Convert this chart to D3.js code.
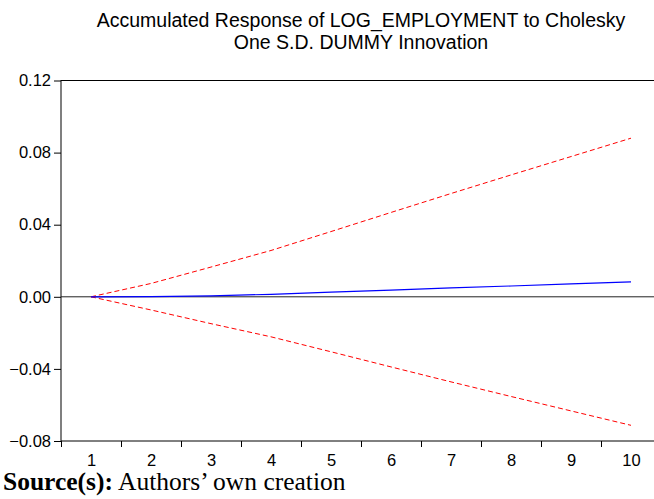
<!DOCTYPE html>
<html>
<head>
<meta charset="utf-8">
<script src="https://cdn.jsdelivr.net/npm/d3@7"></script>
<style>
  body { margin:0; background:#fff; }
  svg text { font-family: "Liberation Sans", Arial, sans-serif; }
</style>
</head>
<body>
<div id="chart"></div>
<script>
const periods = [1,2,3,4,5,6,7,8,9,10]
const response = [0, 0.0001, 0.0005, 0.0014, 0.0026, 0.0037, 0.0049, 0.0060, 0.0072, 0.0083]
const upperBand = [0, 0.0074, 0.0165, 0.0257, 0.0362, 0.0468, 0.0573, 0.0676, 0.0778, 0.0880]
const lowerBand = [0, -0.0073, -0.0149, -0.0222, -0.0305, -0.0389, -0.0472, -0.0553, -0.0633, -0.0713]
const yTicks = [-0.08, -0.04, 0.00, 0.04, 0.08, 0.12]
const titleLines = ["Accumulated Response of LOG_EMPLOYMENT to Cholesky", "One S.D. DUMMY Innovation"]

const W = 654, H = 499
const margin = {top:80.5, left:61, right:-7, bottom:58}
const width = W - margin.left - margin.right,
      height = H - margin.top - margin.bottom

const svg = d3.select("#chart")
  .append("svg")
    .attr("width", W)
    .attr("height", H)

// title
svg.append("g").selectAll("text")
  .data(titleLines)
  .join("text")
    .attr("x", margin.left + width / 2)
    .attr("y", (d,i) => 27 + i * 21.5)
    .attr("text-anchor", "middle")
    .style("font-size", "19.5px")
    .text(d => d)

const g = svg.append("g")
  .attr("transform", "translate(" + margin.left + "," + margin.top + ")")

const x = d3.scaleLinear().domain([0.5, periods.length + 0.5]).range([0, width])
const y = d3.scaleLinear().domain([-0.08, 0.12]).range([height, 0])

// frame
g.append("rect")
  .attr("width", width).attr("height", height)
  .attr("fill", "none").attr("stroke", "#000").attr("stroke-width", 1)

// zero line
g.append("line")
  .attr("x1", 0).attr("x2", width)
  .attr("y1", y(0)).attr("y2", y(0))
  .attr("stroke", "#222").attr("stroke-width", 1)

// y axis
g.append("g")
  .call(d3.axisLeft(y).tickValues(yTicks).tickSize(7).tickSizeOuter(0).tickPadding(3)
    .tickFormat(d3.format(".2f")))
  .call(a => a.select(".domain").remove())
  .selectAll("text").style("font-size", "16.5px").attr("fill", "#000")

// x axis: boundary ticks, labels at centers
g.append("g")
  .attr("transform", "translate(0," + height + ")")
  .call(d3.axisBottom(x).tickValues(d3.range(0.5, periods.length + 1, 1)).tickSize(6).tickSizeOuter(0).tickFormat(""))
  .call(a => a.select(".domain").remove())
g.append("g")
  .attr("transform", "translate(0," + height + ")")
  .call(d3.axisBottom(x).tickValues(periods).tickSize(0).tickPadding(13).tickFormat(d3.format("d")))
  .call(a => a.select(".domain").remove())
  .selectAll("text").style("font-size", "16.5px").attr("fill", "#000")

const line = d3.line().x((d,i) => x(periods[i])).y(d => y(d))

g.append("path").datum(upperBand)
  .attr("d", line).attr("fill", "none")
  .attr("stroke", "#ff0000").attr("stroke-width", 1).attr("stroke-dasharray", "5,3")
g.append("path").datum(lowerBand)
  .attr("d", line).attr("fill", "none")
  .attr("stroke", "#ff0000").attr("stroke-width", 1).attr("stroke-dasharray", "5,3")
g.append("path").datum(response)
  .attr("d", line).attr("fill", "none")
  .attr("stroke", "#0000ff").attr("stroke-width", 1.2)

// source note
const src = svg.append("text")
  .attr("x", 3).attr("y", 490)
  .style("font-family", "'Liberation Serif', 'Times New Roman', serif")
  .style("font-size", "25.5px")
src.append("tspan").style("font-weight", "bold").text("Source(s):")
src.append("tspan").text(" Authors\u2019 own creation")
</script>
</body>
</html>
